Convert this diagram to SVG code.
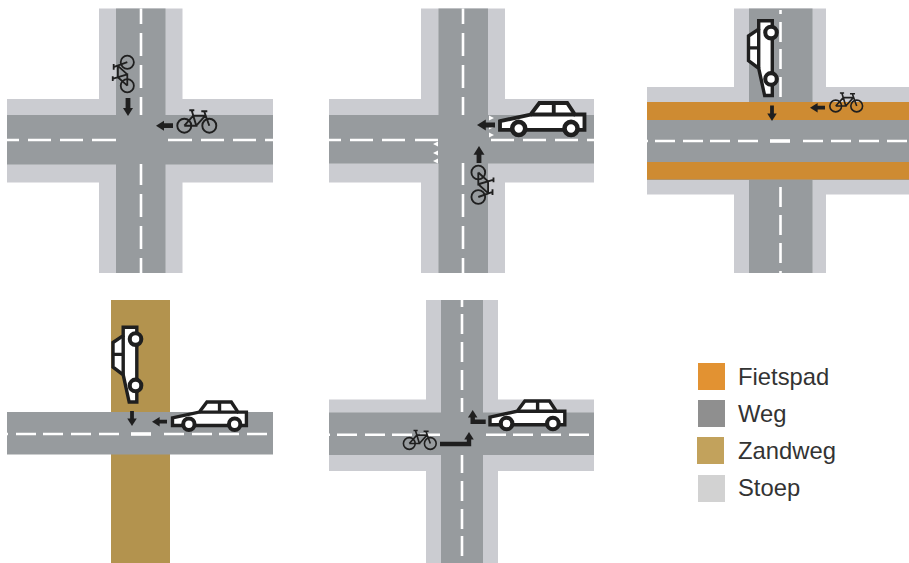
<svg xmlns="http://www.w3.org/2000/svg" width="909" height="563" viewBox="0 0 909 563">
<style>
.s{fill:#cbccd1}.r{fill:#979b9e}.o{fill:#ce8b32}.z{fill:#b3934e}
.d{stroke:#fff;stroke-width:2.600;fill:none}
.b{stroke:#fff;stroke-width:3.600;fill:none}
.a{stroke:#1f1f1f;stroke-width:4.800;fill:none}
.n{stroke:#1f1f1f;stroke-width:3.800;fill:none}
.m{stroke:#1f1f1f;stroke-width:4.400;fill:none}
.h{fill:#1f1f1f}
.l{font-family:"Liberation Sans",Arial,sans-serif;font-size:23.800px;fill:#333}
.t{fill:#fff}
</style>
<defs>
<g id="car">
<path d="M0 19L32 12L41 0H70L78 12H88V28H0Z" fill="#fff" stroke="#1f1f1f" stroke-width="4" stroke-linejoin="miter"/>
<path d="M32 12H78M56 0V12" fill="none" stroke="#1f1f1f" stroke-width="4"/>
<circle cx="19.500" cy="26.500" r="6.800" fill="#fff" stroke="#1f1f1f" stroke-width="4.800"/>
<circle cx="74" cy="26.500" r="6.800" fill="#fff" stroke="#1f1f1f" stroke-width="4.800"/>
</g>
<g id="bike" fill="none" stroke="#1f1f1f" stroke-width="1.900">
<circle cx="0" cy="0" r="7"/><circle cx="25" cy="0" r="7"/>
<path d="M0 0L9 -10H21M0 0H12L9 -10M12 0L21 -10M7.500 -15L12 0M20 -14L25 0M5 -15.500H10M17 -14.500H23"/>
</g>
<path id="al" d="M0 0L8 -5V5Z"/>
</defs>
<g id="panel-1">
<path class="s" d="M99 8.500H182.500V99H273V182.500H182.500V273H99V182.500H7V99H99Z"/>
<path class="r" d="M116 8.500H165.500V115H273V164.500H165.500V273H116V164.500H7V115H116Z"/>
<path class="d" d="M141 8.500V24M141 33V56M141 65V88M141 97V115M141 164V185M141 194V217M141 226V249M141 258V273M7 140H19M28 140H51M60 140H83M92 140H116M168 140H192M201 140H224M233 140H256M265 140H273"/>
<use href="#bike" transform="translate(127.300 85.700) rotate(-90) scale(.94)"/>
<use href="#bike" transform="translate(184.300 125.700)"/>
<path class="a" d="M128 98V110M173 125.700H162"/>
<use class="h" href="#al" transform="translate(128 116) rotate(-90)"/>
<use class="h" href="#al" transform="translate(156 125.700)"/>
</g>
<g id="panel-2">
<path class="s" d="M421 8.500H505V99H594V182.500H505V273H421V182.500H329V99H421Z"/>
<path class="r" d="M438.500 8.500H488V115H594V163.500H488V273H438.500V163.500H329V115H438.500Z"/>
<path class="d" d="M463 8.500V24M463 33V56M463 65V88M463 97V115M463 163V185M463 194V217M463 226V249M463 258V273M329 140H341M350 140H373M382 140H405M415 140H438M491 140H514M523 140H546M555 140H578M587 140H594"/>
<path class="t" d="M489 115.500L494 118L489 120.500ZM489 124.500L494 127L489 129.500ZM489 132.500L494 135L489 137.500ZM438 141.500L433 144L438 146.500ZM438 150.500L433 153L438 155.500ZM438 158.500L433 161L438 163.500Z"/>
<use href="#car" transform="translate(500 103) scale(.96)"/>
<use href="#bike" transform="translate(478.300 172.500) rotate(90) scale(.98)"/>
<path class="a" d="M495 125H483M479 163V152"/>
<use class="h" href="#al" transform="translate(477 125) scale(1.100)"/>
<use class="h" href="#al" transform="translate(479 146) rotate(90) scale(1.100)"/>
</g>
<g id="panel-3">
<path class="s" d="M734 8.500H826V87H909V194.500H826V273H734V194.500H647V87H734Z"/>
<path class="r" d="M749 8.500H812.500V102H909V180H812.500V273H749V180H647V102H749Z"/>
<path class="o" d="M647 102H909V120H647ZM647 162H909V179.500H647Z"/>
<path class="d" d="M780.500 10V14M780.500 22V42M780.500 49V69M780.500 77V97M780.500 187V207M780.500 215V235M780.500 243V263M780.500 271V273M647 141H648M655 141H675M683 141H703M710 141H730M738 141H758M803 141H823M831 141H851M859 141H879M887 141H907"/>
<path class="b" d="M770 141H790"/>
<use href="#car" transform="translate(748.500 95.500) rotate(-90) scale(.85)"/>
<use href="#bike" transform="translate(835.700 106) scale(.84)"/>
<path class="n" d="M772 105.600V116M825 107.700H816"/>
<use class="h" href="#al" transform="translate(772 121) rotate(-90) scale(.95)"/>
<use class="h" href="#al" transform="translate(810 107.700) scale(.95)"/>
</g>
<g id="panel-4">
<rect class="z" x="111" y="300" width="59" height="263"/>
<rect class="r" x="7" y="412" width="266" height="42.500"/>
<path class="d" d="M7 434H8M16 434H36M43 434H63M71 434H91M99 434H119M164 434H184M192 434H212M219 434H239M247 434H267"/>
<path class="b" d="M131 434H151"/>
<use href="#car" transform="translate(113 402) rotate(-90) scale(.85)"/>
<use href="#car" transform="translate(172.500 402) scale(.84)"/>
<path class="n" d="M132 411V421M167 421.700H158"/>
<use class="h" href="#al" transform="translate(132 426) rotate(-90) scale(.95)"/>
<use class="h" href="#al" transform="translate(152 421.700) scale(.95)"/>
</g>
<g id="panel-5">
<path class="s" d="M426 300H498V399.500H594V471H498V563H426V471H329V399.500H426Z"/>
<path class="r" d="M441 300H483V412.500H594V455H483V563H441V455H329V412.500H441Z"/>
<path class="d" d="M462 300V307M462 314V334M462 342V362M462 370V390M462 398V412M462 455V473M462 481V501M462 509V529M462 536V556M329 434.700H330M337 434.700H357M365 434.700H385M392 434.700H412M420 434.700H440M486 434.700H506M513 434.700H533M541 434.700H561M569 434.700H589"/>
<use href="#car" transform="translate(490 401) scale(.85)"/>
<use href="#bike" transform="translate(409.300 443.500) scale(.84)"/>
<path class="m" d="M485.700 421.700H472.700V415M440 444H469V437"/>
<use class="h" href="#al" transform="translate(472.700 410) rotate(90) scale(.95)"/>
<use class="h" href="#al" transform="translate(469 432) rotate(90) scale(.95)"/>
</g>
<g id="legend">
<rect x="698" y="363" width="27" height="27" fill="#e29232"/>
<rect x="698" y="400" width="27" height="27" fill="#8f8f8f"/>
<rect x="697" y="437" width="27" height="27" fill="#c2a25c"/>
<rect x="698" y="475" width="27" height="27" fill="#d2d2d2"/>
<text class="l" x="738" y="385">Fietspad</text>
<text class="l" x="738" y="422">Weg</text>
<text class="l" x="738" y="459">Zandweg</text>
<text class="l" x="738" y="496">Stoep</text>
</g>
</svg>
